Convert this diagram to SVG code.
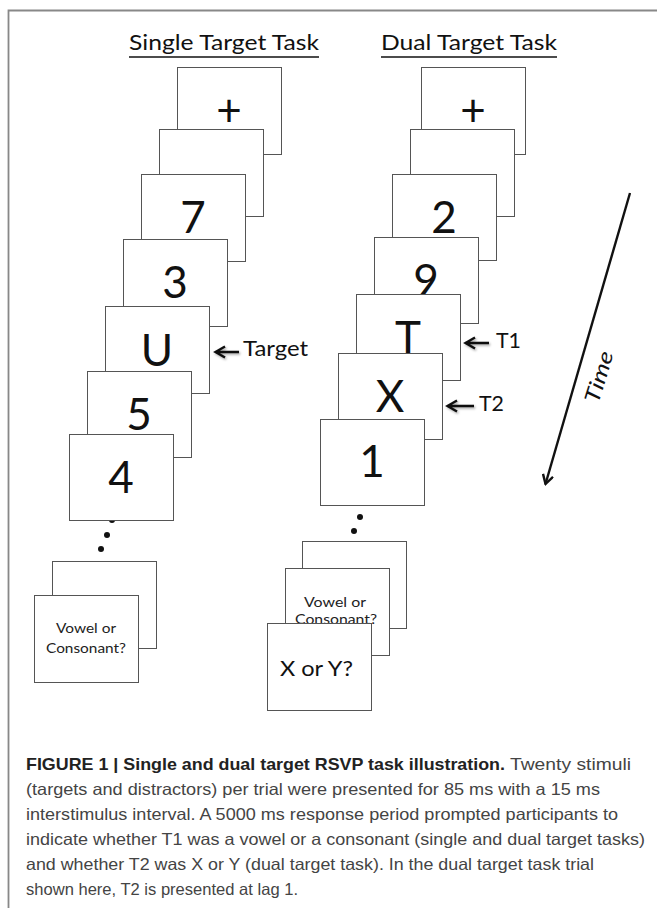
<svg xmlns="http://www.w3.org/2000/svg" width="657" height="908" viewBox="0 0 657 908">
<style>
.box{fill:#fff;stroke:#555;stroke-width:1}
.big{font-family:Lato,"Open Sans",sans-serif;font-size:44px;fill:#111;text-anchor:middle}
.lbl{font-family:Lato,"Open Sans",sans-serif;font-size:21px;fill:#111}
.small{font-family:Lato,"Open Sans",sans-serif;font-size:14px;fill:#222;text-anchor:middle}
.title{font-family:Lato,"Open Sans",sans-serif;font-size:21px;fill:#111}
.ul{stroke:#111;stroke-width:1.6}
.arr{stroke:#111;stroke-width:2.4;fill:none;filter:url(#sh)}
.cap{font-family:"Liberation Sans",Arial,sans-serif;font-size:16.5px;fill:#444}
.capb{font-family:"Liberation Sans",Arial,sans-serif;font-size:16.5px;font-weight:bold;fill:#222}
</style>
<defs>
<filter id="sh" filterUnits="userSpaceOnUse" x="0" y="0" width="657" height="908">
<feDropShadow dx="1.2" dy="1.5" stdDeviation="1" flood-color="#000" flood-opacity="0.35"/>
</filter>
<marker id="head" viewBox="0 0 12 12" refX="10.5" refY="6" markerWidth="12" markerHeight="12" markerUnits="userSpaceOnUse" orient="auto">
<path d="M1.5,0.8 L10.5,6 L1.5,11.2" fill="none" stroke="#111" stroke-width="2.4"/>
</marker>
</defs>
<rect width="657" height="908" fill="#fff"/>
<g id="frame">
<path d="M8.5,908 V10.5 H657" fill="none" stroke="#888" stroke-width="1.8"/>
</g>
<g id="title-single">
<text class="title" x="129" y="50" textLength="190" lengthAdjust="spacingAndGlyphs">Single Target Task</text>
<line class="ul" x1="129" y1="57" x2="319" y2="57"/>
</g>
<g id="title-dual">
<text class="title" x="381" y="50" textLength="176" lengthAdjust="spacingAndGlyphs">Dual Target Task</text>
<line class="ul" x1="381" y1="57" x2="557" y2="57"/>
</g>
<g id="single-1"><rect class="box" x="177.5" y="67.5" width="104" height="87"/><text class="big" x="229" y="126">+</text></g>
<g id="single-2"><rect class="box" x="159.5" y="129.5" width="104" height="87"/></g>
<g id="single-3"><rect class="box" x="141.5" y="174.5" width="104" height="87"/><text class="big" x="193" y="233">7</text></g>
<g id="single-4"><rect class="box" x="123.5" y="239.5" width="104" height="87"/><text class="big" x="175" y="298">3</text></g>
<g id="single-5"><rect class="box" x="105.5" y="306.5" width="104" height="87"/><text class="big" x="157" y="366">U</text></g>
<g id="single-6"><rect class="box" x="87.5" y="371.5" width="104" height="86"/><text class="big" x="139" y="430">5</text></g>
<g id="single-dots"><circle cx="112" cy="520" r="3" fill="#111"/><circle cx="107" cy="535" r="3" fill="#111"/><circle cx="101" cy="549" r="3" fill="#111"/></g>
<g id="single-7"><rect class="box" x="69.5" y="434.5" width="104" height="86"/><text class="big" x="121" y="493">4</text></g>
<g id="single-8"><rect class="box" x="52.5" y="561.5" width="104" height="87"/></g>
<g id="single-9"><rect class="box" x="34.5" y="595.5" width="104" height="87"/>
<text class="small" x="86" y="633" textLength="60" lengthAdjust="spacingAndGlyphs">Vowel or</text>
<text class="small" x="86" y="653" textLength="80" lengthAdjust="spacingAndGlyphs">Consonant?</text></g>
<g id="dual-1"><rect class="box" x="421.5" y="67.5" width="104" height="87"/><text class="big" x="473" y="126">+</text></g>
<g id="dual-2"><rect class="box" x="410.5" y="129.5" width="104" height="87"/></g>
<g id="dual-3"><rect class="box" x="392.5" y="174.5" width="104" height="86"/><text class="big" x="444" y="233">2</text></g>
<g id="dual-4"><rect class="box" x="374.5" y="237.5" width="104" height="86"/><text class="big" x="426" y="296">9</text></g>
<g id="dual-5"><rect class="box" x="356.5" y="294.5" width="104" height="86"/><text class="big" x="408" y="353">T</text></g>
<g id="dual-6"><rect class="box" x="338.5" y="353.5" width="104" height="86"/><text class="big" x="390" y="412">X</text></g>
<g id="dual-dots"><circle cx="360" cy="517" r="3" fill="#111"/><circle cx="354" cy="531" r="3" fill="#111"/></g>
<g id="dual-7"><rect class="box" x="320.5" y="419.5" width="104" height="86"/><text class="big" x="372" y="477">1</text></g>
<g id="dual-8"><rect class="box" x="302.5" y="541.5" width="104" height="87"/></g>
<g id="dual-9"><rect class="box" x="285.5" y="568.5" width="104" height="87"/>
<text class="small" x="335" y="607" textLength="62" lengthAdjust="spacingAndGlyphs">Vowel or</text>
<text class="small" x="336" y="624" textLength="82" lengthAdjust="spacingAndGlyphs">Consonant?</text></g>
<g id="dual-10"><rect class="box" x="267.5" y="623.5" width="104" height="87"/>
<text class="lbl" x="280" y="676" font-size="23" textLength="73" lengthAdjust="spacingAndGlyphs">X or Y?</text></g>
<g id="connectors">
<path class="arr" d="M239,352 H216 M225,346.5 L215.5,352 L225,357.5"/>
<path class="arr" d="M489,343 H466 M475,337.5 L465.5,343 L475,348.5"/>
<path class="arr" d="M474,406 H448 M457,400.5 L447.5,406 L457,411.5"/>
<line x1="630" y1="193" x2="545.5" y2="484" stroke="#111" stroke-width="2.4" marker-end="url(#head)"/>
</g>
<g id="labels">
<text class="lbl" x="243" y="356" textLength="65" lengthAdjust="spacingAndGlyphs">Target</text>
<text class="lbl" x="496" y="348" textLength="25" lengthAdjust="spacingAndGlyphs">T1</text>
<text class="lbl" x="479" y="411" textLength="25" lengthAdjust="spacingAndGlyphs">T2</text>
<text class="lbl" font-style="italic" text-anchor="middle" font-size="23" transform="translate(606,379) rotate(-73)" textLength="53" lengthAdjust="spacingAndGlyphs">Time</text>
</g>
<g id="caption">
<text class="capb" x="26" y="770" textLength="479" lengthAdjust="spacingAndGlyphs">FIGURE 1 | Single and dual target RSVP task illustration.</text>
<text class="cap" x="510" y="770" textLength="121" lengthAdjust="spacingAndGlyphs">Twenty stimuli</text>
<text class="cap" x="26" y="795" textLength="574" lengthAdjust="spacingAndGlyphs">(targets and distractors) per trial were presented for 85 ms with a 15 ms</text>
<text class="cap" x="26" y="820" textLength="592" lengthAdjust="spacingAndGlyphs">interstimulus interval. A 5000 ms response period prompted participants to</text>
<text class="cap" x="26" y="845" textLength="619" lengthAdjust="spacingAndGlyphs">indicate whether T1 was a vowel or a consonant (single and dual target tasks)</text>
<text class="cap" x="26" y="870" textLength="568" lengthAdjust="spacingAndGlyphs">and whether T2 was X or Y (dual target task). In the dual target task trial</text>
<text class="cap" x="26" y="895" textLength="272" lengthAdjust="spacingAndGlyphs">shown here, T2 is presented at lag 1.</text>
</g>
</svg>
